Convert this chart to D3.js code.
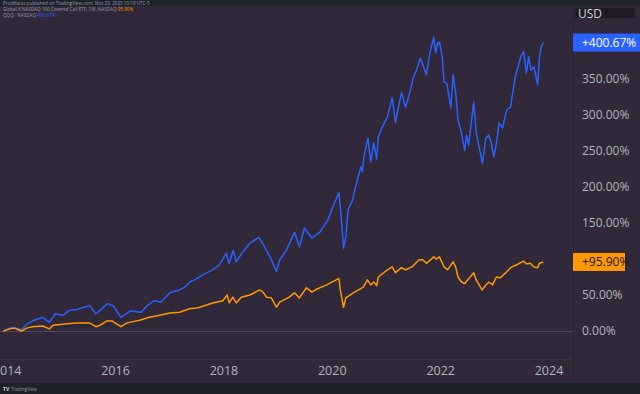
<!DOCTYPE html>
<html>
<head>
<meta charset="utf-8">
<script src="https://cdn.jsdelivr.net/npm/d3@7"></script>
<style>
  html, body { margin: 0; padding: 0; background: #1e222d; }
  svg { display: block; font-family: "Open Sans", "Liberation Sans", sans-serif; }
</style>
</head>
<body>
<svg id="chart" width="640" height="394"></svg>
<script>
// QQQ (NASDAQ) - variazione % dal primo bar visibile
const qqqDates = [
  "2013-12-09","2014-02-05","2014-04-11","2014-05-20","2014-07-05","2014-09-01","2014-10-15","2014-11-25",
  "2015-01-15","2015-03-01","2015-04-20","2015-06-05","2015-07-15","2015-08-25","2015-09-30","2015-11-10",
  "2015-12-20","2016-02-10","2016-04-15","2016-06-25","2016-08-10","2016-09-20","2016-11-05","2017-01-05",
  "2017-03-10","2017-04-15","2017-05-20","2017-06-20","2017-08-15","2017-10-20","2017-12-05","2018-01-20",
  "2018-02-08","2018-03-08","2018-03-28","2018-05-05","2018-06-28","2018-08-28","2018-09-15","2018-10-18",
  "2018-11-20","2018-12-24","2019-01-15","2019-03-01","2019-04-25","2019-05-28","2019-07-01","2019-08-20",
  "2019-10-12","2019-12-05","2020-01-20","2020-02-18","2020-03-05","2020-03-20","2020-04-05","2020-04-20",
  "2020-05-20","2020-06-10","2020-07-15","2020-07-25","2020-08-05","2020-09-01","2020-09-20","2020-10-10",
  "2020-10-30","2020-11-10","2020-12-05","2021-01-10","2021-02-12","2021-03-05","2021-04-15","2021-05-12",
  "2021-06-10","2021-07-05","2021-07-25","2021-08-20","2021-09-30","2021-10-25","2021-11-19","2021-12-01",
  "2021-12-15","2021-12-27","2022-01-15","2022-01-27","2022-02-15","2022-03-14","2022-03-29","2022-04-15",
  "2022-05-01","2022-05-20","2022-06-16","2022-06-28","2022-07-12","2022-08-15","2022-09-01","2022-09-25",
  "2022-10-13","2022-11-05","2022-11-25","2022-12-10","2022-12-28","2023-01-15","2023-02-02","2023-02-25",
  "2023-03-25","2023-04-20","2023-05-20","2023-06-10","2023-06-28","2023-07-18","2023-08-05","2023-08-20",
  "2023-09-05","2023-09-25","2023-10-20","2023-11-01","2023-11-15","2023-11-27"
];
const qqqValues = [
  0, 5, 2, 10, 15, 19, 12, 24,
  22, 29, 30, 33, 35, 24, 30, 38,
  35, 19, 28, 26, 36, 42, 40, 53,
  57, 61, 68, 71, 78, 85, 92, 108,
  94, 112, 96, 108, 122, 130, 124, 112,
  99, 83, 99, 112, 137, 117, 143, 129,
  137, 154, 178, 192, 158, 115, 131, 168,
  182, 200, 228, 221, 242, 268, 235, 261,
  239, 269, 283, 297, 324, 290, 331, 311,
  331, 353, 362, 379, 356, 388, 408, 386,
  400, 401, 381, 346, 344, 310, 356, 331,
  293, 279, 251, 272, 258, 318, 275, 251,
  233, 268, 272, 262, 242, 261, 289, 282,
  307, 311, 351, 367, 381, 388, 358, 381,
  362, 367, 342, 381, 396, 400.67
];

// Global X NASDAQ 100 Covered Call ETF (QYLD)
const qyldDates = [
  "2013-12-09","2014-01-22","2014-02-25","2014-03-28","2014-04-12","2014-05-15","2014-06-25","2014-09-01",
  "2014-10-15","2014-11-10","2015-02-12","2015-04-20","2015-07-15","2015-08-25","2015-09-22","2015-11-08",
  "2015-12-10","2016-02-10","2016-03-20","2016-05-01","2016-06-15","2016-08-20","2016-10-28","2017-01-05",
  "2017-03-12","2017-05-18","2017-07-05","2017-07-25","2017-10-20","2017-12-28","2018-01-26","2018-02-09",
  "2018-03-05","2018-03-28","2018-05-01","2018-06-28","2018-09-01","2018-09-25","2018-10-18","2018-11-20",
  "2018-12-24","2019-01-15","2019-03-20","2019-04-25","2019-05-28","2019-07-15","2019-08-20","2019-09-20",
  "2019-11-28","2020-02-18","2020-02-28","2020-03-20","2020-04-05","2020-05-25","2020-08-01","2020-08-28",
  "2020-09-20","2020-10-10","2020-10-30","2020-11-10","2021-01-10","2021-02-12","2021-03-05","2021-04-15",
  "2021-05-12","2021-06-25","2021-08-12","2021-09-05","2021-09-30","2021-11-19","2021-12-05","2021-12-27",
  "2022-01-27","2022-02-20","2022-03-29","2022-04-15","2022-05-01","2022-05-25","2022-06-16","2022-07-05",
  "2022-08-15","2022-09-01","2022-10-10","2022-11-05","2022-11-25","2022-12-20","2023-01-15","2023-02-10",
  "2023-03-20","2023-04-20","2023-06-01","2023-07-18","2023-08-05","2023-09-01","2023-09-25","2023-10-20",
  "2023-11-01","2023-11-27"
];
const qyldValues = [
  0, 3, 4, 1, 0, 4, 6, 7,
  3, 8, 10, 11, 11, 6, 8, 14,
  14, 6, 11, 13, 15, 19, 22, 25,
  26, 31, 32, 33, 39, 42, 50, 39,
  47, 39, 47, 50, 57, 54, 47, 46,
  33, 40, 47, 53, 46, 60, 54, 58,
  64, 73, 57, 33, 46, 53, 61, 71,
  64, 68, 63, 75, 85, 89, 81, 88,
  85, 89, 99, 99, 94, 103, 100, 103,
  89, 85, 96, 89, 75, 68, 66, 71,
  81, 71, 57, 64, 68, 64, 75, 74,
  81, 88, 92, 97, 93, 94, 89, 88,
  94, 95.90
];

const yTicks = [0, 50, 100, 150, 200, 250, 300, 350];
const xTicks = ["2014-01-01", "2016-01-01", "2018-01-01", "2020-01-01", "2022-01-01", "2024-01-01"];

const W = 640, H = 394;
const plotRight = 573, plotBottom = 359, axisBottom = 383;
const bg = "#312939";
const axisText = "#b2b5be";

function toSeries(dates, values) {
  return dates.map((d, i) => ({ date: new Date(d + "T00:00:00Z"), value: values[i] }));
}

const svg = d3.select("#chart");

// sfondi
svg.append("rect").attr("width", W).attr("height", H).attr("fill", "#1e222d");
svg.append("rect").attr("x", 0).attr("y", 6).attr("width", W).attr("height", axisBottom - 6).attr("fill", bg);

const x = d3.scaleUtc()
  .domain([new Date("2014-01-01T00:00:00Z"), new Date("2024-01-01T00:00:00Z")])
  .range([6.7, 548.5]);

const y = d3.scaleLinear()
  .domain([0, 400])
  .range([331, 43]);

svg.append("clipPath").attr("id", "plotClip")
  .append("rect").attr("x", 0).attr("y", 6).attr("width", plotRight).attr("height", plotBottom - 6);

// separatori
svg.append("line").attr("x1", 0).attr("x2", plotRight).attr("y1", plotBottom + 0.5).attr("y2", plotBottom + 0.5)
  .attr("stroke", "#3b3346");
svg.append("line").attr("x1", plotRight + 0.5).attr("x2", plotRight + 0.5).attr("y1", 6).attr("y2", axisBottom)
  .attr("stroke", "#2a2432");

// linea dello zero
svg.append("line").attr("x1", 0).attr("x2", plotRight).attr("y1", y(0) + 0.5).attr("y2", y(0) + 0.5)
  .attr("stroke", "#4f4a5a").attr("stroke-width", 1);

const line = d3.line()
  .x(d => x(d.date))
  .y(d => y(d.value));

const lines = svg.append("g").attr("clip-path", "url(#plotClip)");

lines.append("path")
  .datum(toSeries(qqqDates, qqqValues))
  .attr("d", line)
  .attr("fill", "none")
  .attr("stroke", "#2962ff")
  .attr("stroke-width", 1.5)
  .attr("stroke-linejoin", "round");

lines.append("path")
  .datum(toSeries(qyldDates, qyldValues))
  .attr("d", line)
  .attr("fill", "none")
  .attr("stroke", "#ff9800")
  .attr("stroke-width", 1.5)
  .attr("stroke-linejoin", "round");

// asse del tempo ("2014" resta tagliato a sinistra come nell'originale)
svg.append("clipPath").attr("id", "timeClip")
  .append("rect").attr("x", 0).attr("y", -10).attr("width", plotRight).attr("height", 40);
const xAxis = svg.append("g")
  .attr("clip-path", "url(#timeClip)")
  .attr("transform", `translate(0, ${plotBottom})`)
  .call(d3.axisBottom(x)
    .tickValues(xTicks.map(d => new Date(d + "T00:00:00Z")))
    .tickSize(0)
    .tickPadding(7)
    .tickFormat(d3.utcFormat("%Y")));
xAxis.select(".domain").remove();
xAxis.selectAll("text")
  .attr("fill", axisText)
  .style("font-size", "12.5px")
  .style("font-family", "\"Open Sans\", sans-serif");

// etichette dell'ultimo valore
const lastLabels = [
  { text: "+400.67%", value: qqqValues[qqqValues.length - 1], fill: "#2962ff", color: "#ffffff", w: 67 },
  { text: "+95.90%", value: qyldValues[qyldValues.length - 1], fill: "#ff9800", color: "#131722", w: 52 }
];

// asse dei prezzi (si nascondono le tacche coperte dalle etichette)
const shownTicks = yTicks.filter(t =>
  lastLabels.every(l => Math.abs(y(t) - y(l.value)) > 12));

const yAxis = svg.append("g")
  .attr("transform", `translate(${plotRight}, 0)`)
  .call(d3.axisRight(y)
    .tickValues(shownTicks)
    .tickSize(0)
    .tickPadding(9)
    .tickFormat(d => d3.format(".2f")(d) + "%"));
yAxis.select(".domain").remove();
yAxis.selectAll("text")
  .attr("fill", axisText)
  .style("font-size", "12px")
  .style("font-family", "\"Open Sans\", sans-serif");

lastLabels.forEach(l => {
  const cy = y(l.value);
  svg.append("rect")
    .attr("x", plotRight).attr("y", cy - 9)
    .attr("width", l.w).attr("height", 18)
    .attr("fill", l.fill);
  svg.append("text")
    .attr("x", plotRight + 9).attr("y", cy)
    .attr("dy", "0.35em")
    .attr("fill", l.color)
    .style("font-size", "12px")
    .text(l.text);
});

// USD
svg.append("rect").attr("x", 575).attr("y", 8).attr("width", 60).attr("height", 10).attr("fill", "#1f1b27");
svg.append("text").attr("x", 578).attr("y", 17.5)
  .attr("fill", "#d1d4dc").style("font-size", "12px").text("USD");

// intestazione
const head = svg.append("g").style("font-size", "4.6px").attr("fill", "#9598a1");
head.append("text").attr("x", 3).attr("y", 4.5)
  .text("ProsMalos published on TradingView.com, Nov 28, 2023 10:18 UTC-5");
const l2 = head.append("text").attr("x", 3).attr("y", 11);
l2.append("tspan").text("Global X NASDAQ 100 Covered Call ETF, 1W, NASDAQ ");
l2.append("tspan").attr("fill", "#ff9800").text(" 95.90%");
const l3 = head.append("text").attr("x", 3).attr("y", 16.5);
l3.append("tspan").text("QQQ · NASDAQ ");
l3.append("tspan").attr("fill", "#2962ff").text(" 400.67%");

// logo in basso
svg.append("text").attr("x", 3).attr("y", 390.5)
  .attr("fill", "#d1d4dc").style("font-size", "5px").style("font-weight", "bold")
  .text("TV");
svg.append("text").attr("x", 11).attr("y", 390.5)
  .attr("fill", "#9598a1").style("font-size", "4.5px")
  .text("TradingView");
</script>
</body>
</html>
